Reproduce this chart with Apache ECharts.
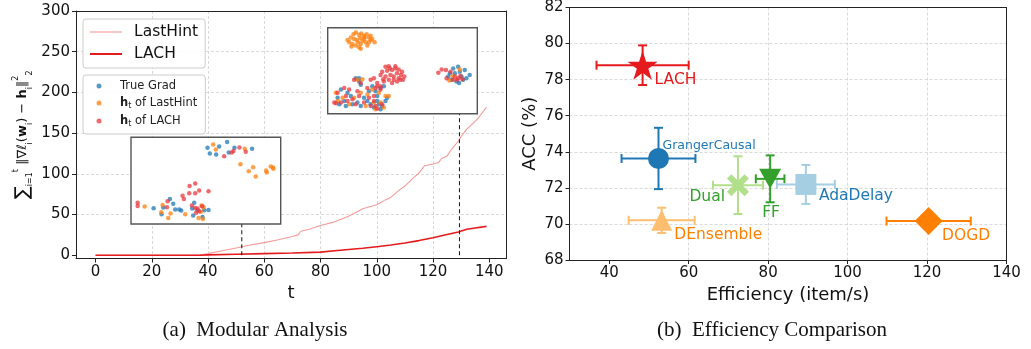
<!DOCTYPE html>
<html>
<head>
<meta charset="utf-8">
<script src="https://cdn.jsdelivr.net/npm/echarts@6/dist/echarts.min.js"></script>
<style>html,body{margin:0;padding:0;background:#fff;}#c{width:1031px;height:349px;}</style>
</head>
<body>
<div id="c"></div>
<script>
// ---------- Left panel (a) data ----------
const tTicks = [0, 20, 40, 60, 80, 100, 120, 140];
const yTicksA = [0, 50, 100, 150, 200, 250, 300];
const lastHintT = [0, 10, 20, 30, 37, 40, 45, 50, 55, 60, 65, 70, 72, 73, 76, 80, 85, 90, 95, 100, 103, 105, 108, 110, 113, 115, 117, 120, 122, 123, 125, 127, 129, 130, 132, 133, 136, 139];
const lastHintVals = [0, 0, 0, 0, 0.3, 2, 5.5, 9, 12.5, 15.5, 19, 23, 25, 29.5, 32, 36.5, 41, 48, 57, 62, 68, 71, 80, 85, 95, 101, 110, 112, 114, 118.5, 122, 132, 140, 146, 155, 158, 168, 182];
const lachT = [0, 10, 20, 30, 37, 40, 50, 60, 70, 80, 85, 90, 95, 100, 105, 110, 115, 120, 125, 129, 132, 135, 139];
const lachVals = [0, 0, 0, 0, 0, 0.5, 1.2, 2, 2.8, 3.8, 5.5, 7, 8.5, 10.5, 12.5, 15, 18, 21.5, 25.5, 28.5, 32, 33.5, 35.5];
const guide1 = [[52, 0], [52, 38.5]];
const guide2 = [[129.4, 0], [129.4, 174]];

// inset 1 points (t-SNE coords, y downward)
const in1True = [[289,14],[265,28],[230,32],[237,49],[256,52],[294,46],[311,32],[364,35],[117,188],[127,202],[97,214],[68,216],[133,220],[145,220],[151,223],[190,199],[184,217],[92,234],[187,238],[215,243],[233,221],[200,222],[220,222]];
const in1Last = [[247,22],[255,37],[342,35],[329,82],[367,91],[354,103],[375,119],[406,101],[408,107],[420,89],[427,92],[428,96],[41,211],[95,206],[119,232],[163,234],[91,228],[112,246],[203,246],[216,249],[212,208],[218,213],[210,227]];
const in1Lach = [[280,58],[303,46],[308,42],[326,31],[345,44],[176,148],[193,141],[205,162],[233,164],[175,170],[193,170],[155,178],[159,188],[110,195],[108,213],[183,208],[193,215],[200,217],[20,199],[20,209],[196,230],[205,225],[214,210]];
// inset 2 points
const in2True = [[380,125],[395,120],[400,135],[405,150],[410,160],[390,165],[375,160],[365,150],[420,155],[430,145],[385,140],[398,170],[370,140],[415,130],[85,155],[95,165],[100,175],[40,190],[60,200],[30,215],[50,225],[35,235],[70,210],[90,230],[100,240],[120,225],[130,235],[140,245],[155,235],[165,240],[150,210],[145,195],[160,185],[170,180],[125,195],[110,215],[75,235],[55,240],[150,225],[175,225],[180,215],[135,180],[95,155],[160,250]];
const in2Last = [[70,30],[78,20],[85,15],[95,22],[102,18],[110,25],[118,20],[125,30],[135,35],[142,45],[60,38],[65,45],[75,50],[85,55],[95,60],[100,65],[92,45],[105,40],[115,45],[125,45],[130,38],[80,35],[88,38],[98,32],[110,35],[120,55],[72,58],[100,50],[112,30],[130,25],[378,148],[400,128],[368,162],[90,160],[105,158],[25,200],[45,215],[65,235],[80,215],[100,200],[120,205],[135,190],[155,200],[175,210],[185,210],[140,230],[160,230],[115,240],[30,225],[145,250],[170,245]];
const in2Lach = [[165,135],[175,120],[185,118],[195,130],[205,125],[215,128],[225,135],[232,150],[220,160],[210,165],[195,170],[185,160],[175,150],[160,145],[190,145],[200,150],[210,140],[222,145],[180,132],[200,160],[215,155],[228,160],[168,158],[188,125],[205,118],[130,160],[140,155],[150,170],[160,180],[145,185],[170,165],[358,130],[372,135],[385,150],[395,155],[402,148],[380,160],[360,155],[345,128],[335,138],[392,160],[408,158],[80,160],[100,170],[50,185],[65,190],[30,200],[40,230],[25,232],[55,210],[75,220],[95,210],[85,235],[60,225],[110,230],[125,215],[140,210],[130,240],[145,240],[150,248],[165,235],[120,185],[150,180],[160,190],[140,225],[90,195],[20,230]];

// ---------- Right panel (b) data ----------
const methods = ['LACH', 'GrangerCausal', 'Dual', 'FF', 'AdaDelay', 'DEnsemble', 'DOGD'];
const efficiency = [48.4, 52.4, 72.4, 80.5, 89.5, 53.2, 120.4];
const acc = [78.8, 73.63, 72.15, 72.5, 72.19, 70.2, 70.16];
const effErr = [11.6, 9.3, 6.3, 3.6, 7.3, 8.3, 10.6];
const accErr = [1.1, 1.7, 1.6, 1.3, 1.08, 0.7, 0.3];
const effTicks = [40, 60, 80, 100, 120, 140];

// ---------- styles ----------
const FONT = 'DejaVu Sans';
const C_BLUE = '#1f77b4', C_ORANGE = '#ff7f0e', C_RED = '#e8383d';
const markerColors = ['#e41a1c', '#1f78b4', '#b2df8a', '#33a02c', '#a6cee3', '#fdbf6f', '#ff7f00'];
const labelColors = ['#e41a1c', '#1f78b4', '#33a02c', '#33a02c', '#1f78b4', '#ff7f00', '#ff7f00'];
const STAR = 'path://M0,-1L0.2245,-0.309L0.951,-0.309L0.363,0.118L0.588,0.809L0,0.382L-0.588,0.809L-0.363,0.118L-0.951,-0.309L-0.2245,-0.309Z';
const XFILL = 'path://M-1,-0.6L-0.6,-1L0,-0.4L0.6,-1L1,-0.6L0.4,0L1,0.6L0.6,1L0,0.4L-0.6,1L-1,0.6L-0.4,0Z';
const symbols = [STAR, 'circle', XFILL, 'triangle', 'rect', 'triangle', 'diamond'];
const symbolSizes = [[30, 29], 21, 22, [22, 20], 21, [21, 21], [28, 28]];
const symbolRot = [0, 0, 0, 180, 0, 0, 0];
const labelAlign = ['left', 'left', 'right', 'center', 'left', 'left', 'left'];
const labelOffset = [[12, 15], [4, -13], [-13, 12], [1, 34], [13, 11.5], [12.6, 14.3], [13.4, 14.7]];
const labelSize = [15.5, 12.5, 15.5, 15.5, 15.5, 15.5, 15.5];

const zip = (a, b) => a.map((v, i) => [v, b[i]]);
const gridLine = { show: true, showMaxLine: false, showMinLine: false, lineStyle: { color: '#d0d0d0', type: [3, 2], width: 0.8 } };
const tick = { show: true, length: 4, inside: false, lineStyle: { color: '#222', width: 1 } };
const lbl = { color: '#111', fontFamily: FONT, fontSize: 15 };
const spine = { show: true, onZero: false, lineStyle: { color: '#222', width: 1 } };
const spineAxis = (grid, pos, min, max) => ({
  gridIndex: grid, type: 'value', position: pos, min, max, axisLine: spine,
  axisTick: { show: false }, axisLabel: { show: false }, splitLine: { show: false }
});

const chart = echarts.init(document.getElementById('c'), null, { renderer: 'canvas' });

const scatterBase = (name, data, color, xi) => ({
  type: 'scatter', name, data, xAxisIndex: xi, yAxisIndex: xi, symbol: 'circle', symbolSize: 4.5,
  itemStyle: { color, opacity: 0.75 }, z: 5, silent: true
});

const rightSeries = methods.map((m, i) => ({
  type: 'scatter', name: m, xAxisIndex: 3, yAxisIndex: 3,
  data: [[efficiency[i], acc[i]]],
  symbol: symbols[i], symbolSize: symbolSizes[i], symbolRotate: symbolRot[i],
  itemStyle: { color: markerColors[i], opacity: 1 }, z: 4 + i,
  label: {
    show: true, formatter: m, position: 'inside', align: labelAlign[i], verticalAlign: 'middle',
    offset: labelOffset[i], color: labelColors[i], fontFamily: FONT, fontSize: labelSize[i]
  }
}));

const errData = methods.map((m, i) => [efficiency[i], acc[i], effErr[i], accErr[i], i]);

chart.setOption({
  animation: false,
  backgroundColor: '#fff',
  title: [
    { text: '(a)  Modular Analysis', left: 255, top: 320, textAlign: 'center', padding: 0,
      textStyle: { fontFamily: 'Liberation Serif', fontWeight: 'normal', fontSize: 21, color: '#111' } },
    { text: '(b)  Efficiency Comparison', left: 772, top: 320, textAlign: 'center', padding: 0,
      textStyle: { fontFamily: 'Liberation Serif', fontWeight: 'normal', fontSize: 21, color: '#111' } }
  ],
  legend: [
    {
      data: [{ name: 'LastHint', icon: 'path://M0,0H32V1.1H0Z' }, { name: 'LACH_line', icon: 'path://M0,0H32V2H0Z' }],
      orient: 'vertical', left: 83, top: 19,
      padding: [5, 7, 6, 7], itemWidth: 32, itemHeight: 14, itemGap: 6,
      backgroundColor: 'rgba(255,255,255,0.85)', borderColor: '#cccccc', borderWidth: 1, borderRadius: 3,
      formatter: n => n === 'LACH_line' ? 'LACH' : n,
      textStyle: { fontFamily: FONT, fontSize: 15.5, color: '#111', padding: [0, 0, 0, 7] },
      selectedMode: false, z: 20
    },
    {
      data: ['True Grad', 'h_t of LastHint', 'h_t of LACH'], orient: 'vertical', left: 83, top: 75,
      padding: [5, 8, 6, 13.5], itemWidth: 5, itemHeight: 5, itemGap: 5, icon: 'circle',
      backgroundColor: 'rgba(255,255,255,0.85)', borderColor: '#cccccc', borderWidth: 1, borderRadius: 3,
      formatter: n => n === 'True Grad' ? '{r|True Grad}' : ('{b|h}{s|t}{r| of ' + n.replace('h_t of ', '') + '}'),
      textStyle: {
        fontFamily: FONT, fontSize: 11.5, color: '#111', padding: [0, 0, 0, 13.5],
        rich: {
          r: { fontFamily: FONT, fontSize: 11.5, color: '#222', lineHeight: 14 },
          b: { fontFamily: FONT, fontSize: 11.5, fontWeight: 'bold', color: '#222', lineHeight: 14 },
          s: { fontFamily: FONT, fontSize: 8, color: '#222', verticalAlign: 'bottom', lineHeight: 8 }
        }
      },
      selectedMode: false, z: 20
    }
  ],
  grid: [
    { left: 76, top: 11, width: 430, height: 247.5 },
    { left: 131, top: 137.3, width: 149.7, height: 86.7, show: true, backgroundColor: '#fff', borderColor: '#555', borderWidth: 1.4, z: 3 },
    { left: 327.7, top: 27.7, width: 149.6, height: 86, show: true, backgroundColor: '#fff', borderColor: '#555', borderWidth: 1.4, z: 3 },
    { left: 569.5, top: 7.5, width: 437, height: 252.5 }
  ],
  xAxis: [
    { gridIndex: 0, type: 'value', min: -6.95, max: 145.95, name: 't', nameLocation: 'middle', nameGap: 21,
      nameTextStyle: { fontFamily: FONT, fontSize: 18, color: '#111' },
      axisLine: spine, axisTick: Object.assign({ customValues: tTicks }, tick),
      axisLabel: Object.assign({ customValues: tTicks, margin: 6 }, lbl), splitLine: gridLine },
    { gridIndex: 1, type: 'value', min: 0, max: 450, show: false, splitLine: { show: false } },
    { gridIndex: 2, type: 'value', min: 0, max: 453, show: false, splitLine: { show: false } },
    { gridIndex: 3, type: 'value', min: 30, max: 140, name: 'Efficiency (item/s)', nameLocation: 'middle', nameGap: 22,
      nameTextStyle: { fontFamily: FONT, fontSize: 18, color: '#111' },
      axisLine: spine, axisTick: Object.assign({ customValues: effTicks }, tick),
      axisLabel: Object.assign({ customValues: effTicks, margin: 6 }, lbl), splitLine: gridLine },
    spineAxis(0, 'top', -6.95, 145.95),
    spineAxis(3, 'top', 30, 140)
  ],
  yAxis: [
    { gridIndex: 0, type: 'value', min: -4, max: 300,
      name: '{big|∑}{s|i=1}{p|t}{n| ‖∇ℓ}{s|i}{n|(}{b|w}{s|i}{n|) − }{b|h}{s|i}{n|‖}{p|2}{s|2}',
      nameLocation: 'middle', nameRotate: 90, nameGap: 42,
      nameTextStyle: {
        fontFamily: FONT, fontSize: 13, color: '#111',
        rich: {
          big: { fontFamily: FONT, fontSize: 19, color: '#111', lineHeight: 22 },
          n: { fontFamily: FONT, fontSize: 13, color: '#111', lineHeight: 22 },
          b: { fontFamily: FONT, fontSize: 13, fontWeight: 'bold', color: '#111', lineHeight: 22 },
          s: { fontFamily: FONT, fontSize: 8, color: '#111', lineHeight: 10, verticalAlign: 'bottom' },
          p: { fontFamily: FONT, fontSize: 8, color: '#111', lineHeight: 10, verticalAlign: 'top' }
        }
      },
      axisLine: spine, axisTick: Object.assign({ customValues: yTicksA }, tick),
      axisLabel: Object.assign({ customValues: yTicksA, margin: 6 }, lbl), splitLine: gridLine },
    { gridIndex: 1, type: 'value', min: 0, max: 264, inverse: true, show: false, splitLine: { show: false } },
    { gridIndex: 2, type: 'value', min: 0, max: 264, inverse: true, show: false, splitLine: { show: false } },
    { gridIndex: 3, type: 'value', min: 68, max: 82, interval: 2, name: 'ACC (%)', nameLocation: 'middle', nameRotate: 90, nameGap: 30,
      nameTextStyle: { fontFamily: FONT, fontSize: 18, color: '#111' },
      axisLine: spine, axisTick: tick,
      axisLabel: Object.assign({ margin: 6 }, lbl), splitLine: gridLine },
    spineAxis(0, 'right', -4, 300),
    spineAxis(3, 'right', 68, 82)
  ],
  series: [
    { type: 'line', name: 'LastHint', data: zip(lastHintT, lastHintVals), xAxisIndex: 0, yAxisIndex: 0,
      symbol: 'none', lineStyle: { color: '#f59a9a', width: 1.1 }, itemStyle: { color: '#f59a9a' }, z: 2 },
    { type: 'line', name: 'LACH_line', data: zip(lachT, lachVals), xAxisIndex: 0, yAxisIndex: 0,
      symbol: 'none', lineStyle: { color: '#e41a1c', width: 1.6 }, itemStyle: { color: '#e41a1c' }, z: 2 },
    { type: 'line', name: 'guide1', data: guide1, xAxisIndex: 0, yAxisIndex: 0, symbol: 'none',
      lineStyle: { color: '#111', width: 1, type: [4, 3] }, z: 2, silent: true },
    { type: 'line', name: 'guide2', data: guide2, xAxisIndex: 0, yAxisIndex: 0, symbol: 'none',
      lineStyle: { color: '#111', width: 1, type: [4, 3] }, z: 2, silent: true },
    scatterBase('True Grad', in1True, C_BLUE, 1),
    scatterBase('h_t of LastHint', in1Last, C_ORANGE, 1),
    scatterBase('h_t of LACH', in1Lach, C_RED, 1),
    scatterBase('True Grad', in2True, C_BLUE, 2),
    scatterBase('h_t of LastHint', in2Last, C_ORANGE, 2),
    scatterBase('h_t of LACH', in2Lach, C_RED, 2),
    {
      type: 'custom', name: 'err', xAxisIndex: 3, yAxisIndex: 3, data: errData, z: 3, silent: true,
      renderItem: function (params, api) {
        const x = api.value(0), y = api.value(1), ex = api.value(2), ey = api.value(3), ci = api.value(4);
        const c = api.coord([x, y]);
        const l = api.coord([x - ex, y]), r = api.coord([x + ex, y]);
        const t = api.coord([x, y + ey]), b = api.coord([x, y - ey]);
        const cap = 4.5;
        const st = { stroke: markerColors[ci], lineWidth: 2, fill: null };
        const mk = (x1, y1, x2, y2) => ({ type: 'line', shape: { x1, y1, x2, y2 }, style: st });
        return { type: 'group', children: [
          mk(l[0], c[1], r[0], c[1]), mk(l[0], c[1] - cap, l[0], c[1] + cap), mk(r[0], c[1] - cap, r[0], c[1] + cap),
          mk(c[0], t[1], c[0], b[1]), mk(c[0] - cap, t[1], c[0] + cap, t[1]), mk(c[0] - cap, b[1], c[0] + cap, b[1])
        ] };
      }
    }
  ].concat(rightSeries)
});
</script>
</body>
</html>
